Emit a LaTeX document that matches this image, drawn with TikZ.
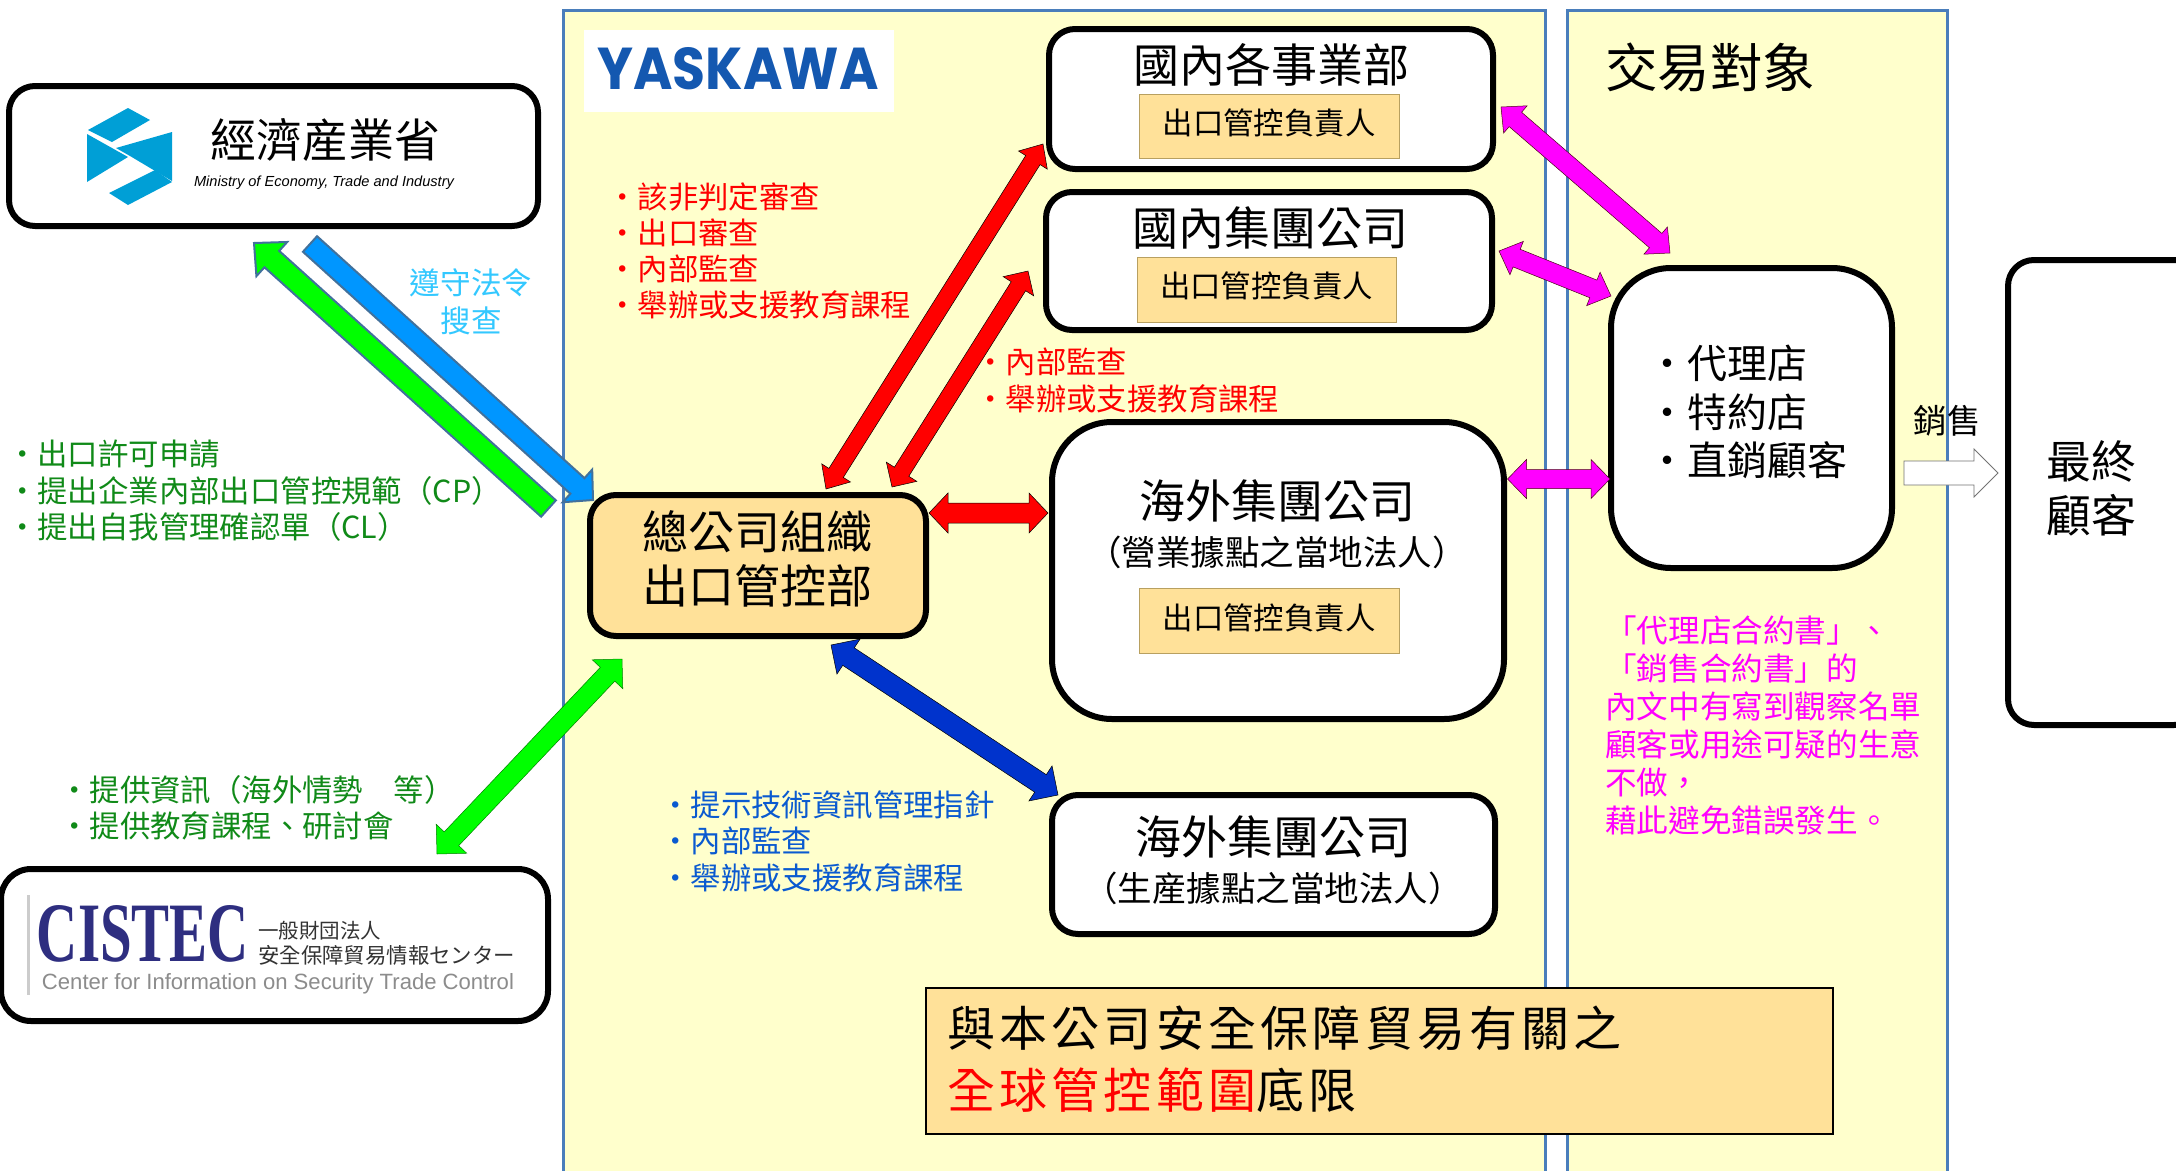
\documentclass[tikz,border=0pt]{standalone}
\usepackage{fontspec}
\usepackage{graphicx}
\setmainfont{Noto Sans CJK TC}
\newfontfamily\arialf{Liberation Sans}
\newfontfamily\serff{Liberation Serif}
\newfontfamily\yasf{Poppins}
\usetikzlibrary{calc}
\newcommand{\fs}[2]{\fontsize{#1}{#2}\selectfont}
\definecolor{panelfill}{HTML}{FFFFCC}
\definecolor{panelline}{HTML}{4A7EBB}
\definecolor{gold}{HTML}{FFE199}
\definecolor{goldline}{HTML}{B8A060}
\definecolor{txtred}{HTML}{FF0000}
\definecolor{txtgreen}{HTML}{108A18}
\definecolor{txtsky}{HTML}{33C8FF}
\definecolor{txtblue}{HTML}{0A5AD0}
\definecolor{txtmag}{HTML}{FF00FF}
\definecolor{arrgreen}{HTML}{00FF00}
\definecolor{arrsky}{HTML}{0096FF}
\definecolor{arrblue}{HTML}{0033CC}
\definecolor{arrline}{HTML}{41719C}
\definecolor{metilogo}{HTML}{009FD6}
\definecolor{cistecblue}{HTML}{2E2E80}
\definecolor{yasblue}{HTML}{1458B0}
\tikzset{
  panel/.style={draw=panelline,line width=3pt,fill=panelfill},
  rbox/.style={draw=black,line width=6pt,fill=white,rounded corners=#1},
  rbox/.default=26pt,
  inner/.style={draw=goldline,line width=1pt,fill=gold,inner sep=0pt,text=black,font=\fs{30.4}{36}},
  txt/.style={inner sep=0pt,align=center},
  ltxt/.style={inner sep=0pt,align=left,anchor=west},
  redarr/.style={draw=black,line width=.5pt,fill=red},
  magarr/.style={draw=black!60!purple,line width=.5pt,fill=txtmag},
  grnarr/.style={draw=arrline,line width=2pt,fill=arrgreen,miter limit=20},
  skyarr/.style={draw=arrline,line width=2pt,fill=arrsky,miter limit=20},
  blkarr/.style={draw=black,line width=.5pt,fill=arrblue},
  grnarrb/.style={draw=black!50!green,line width=.5pt,fill=arrgreen},
  whtarr/.style={draw=black!55,line width=.8pt,fill=white},
}
% from, to, shaft half, head half, head length, style
\newcommand{\DoubleArrow}[6]{%
  \draw[#6] let \p1=($(#2)-(#1)$), \n1={atan2(\y1,\x1)} in
    (#1)
    -- ($(#1)+(\n1:#5pt)+(\n1+90:#4pt)$)
    -- ($(#1)+(\n1:#5pt)+(\n1+90:#3pt)$)
    -- ($(#2)+(\n1+180:#5pt)+(\n1+90:#3pt)$)
    -- ($(#2)+(\n1+180:#5pt)+(\n1+90:#4pt)$)
    -- (#2)
    -- ($(#2)+(\n1+180:#5pt)+(\n1-90:#4pt)$)
    -- ($(#2)+(\n1+180:#5pt)+(\n1-90:#3pt)$)
    -- ($(#1)+(\n1:#5pt)+(\n1-90:#3pt)$)
    -- ($(#1)+(\n1:#5pt)+(\n1-90:#4pt)$)
    -- cycle;}
\newcommand{\SingleArrow}[6]{%
  \draw[#6] let \p1=($(#2)-(#1)$), \n1={atan2(\y1,\x1)} in
    ($(#1)+(\n1+90:#3pt)$)
    -- ($(#2)+(\n1+180:#5pt)+(\n1+90:#3pt)$)
    -- ($(#2)+(\n1+180:#5pt)+(\n1+90:#4pt)$)
    -- (#2)
    -- ($(#2)+(\n1+180:#5pt)+(\n1-90:#4pt)$)
    -- ($(#2)+(\n1+180:#5pt)+(\n1-90:#3pt)$)
    -- ($(#1)+(\n1-90:#3pt)$)
    -- cycle;}
\begin{document}
\begin{tikzpicture}[x=1pt,y=-1pt]
\useasboundingbox (0,0) rectangle (2176,1170);
\fill[white] (0,0) rectangle (2176,1170);
% panels
\draw[panel] (563,10) rectangle (1545,1185);
\draw[panel] (1567,10) rectangle (1947,1185);
% Yaskawa logo
\node[fill=white,minimum width=310pt,minimum height=82pt,inner sep=0pt] (yas) at (739,71) {};
\node[txt,text=yasblue] (yastxt) at (738,69) {\resizebox{281pt}{42pt}{\yasf\bfseries YASKAWA}};
% METI
\draw[rbox] (9,86) rectangle (538,226);
\begin{scope}[fill=metilogo,draw=none]
\fill (128,108) -- (150,120) -- (112,142) -- (88,130) -- cycle;
\fill (87,134) -- (128,157) -- (87,182) -- cycle;
\fill (172,132) -- (172,181) -- (130,156) -- (116,148) -- cycle;
\fill (155,170) -- (172,182) -- (128,205) -- (109,193) -- cycle;
\end{scope}
\node[txt,font=\fs{46}{50}] (meti) at (325,140) {經濟産業省};
\node[txt,font={\arialf\itshape\fs{14.6}{16}}] (metien) at (324,182.5) {Ministry of Economy, Trade and Industry};
% CISTEC
\draw[rbox=30pt] (1,869) rectangle (548,1021);
\fill[black!20] (27,895) rectangle (30,995);
\node[txt,text=cistecblue] (cis) at (143,934) {\resizebox{212pt}{56pt}{\serff\bfseries CISTEC}};
\node[txt,anchor=west,text=black!80,font=\fs{20.5}{24}] (cis1) at (258,931) {一般財団法人};
\node[txt,anchor=west,text=black!80,font=\fs{21.4}{24}] (cis2) at (258,955) {安全保障貿易情報センター};
\node[txt,text=black!45] (cis3) at (278,984) {\resizebox{472pt}{!}{\arialf\fs{20}{24}Center for Information on Security Trade Control}};
% boxes
\draw[rbox] (1049,29) rectangle (1493,169);
\node[txt,font=\fs{46}{50}] (d1) at (1271,65) {國內各事業部};
\node[inner,minimum width=260pt,minimum height=64pt] (d1i) at (1269,126) {\raisebox{9pt}{出口管控負責人}};
\draw[rbox] (1046,192) rectangle (1492,330);
\node[txt,font=\fs{46}{50}] (d2) at (1270,228) {國內集團公司};
\node[inner,minimum width=259pt,minimum height=65pt] (d2i) at (1266.5,289.5) {\raisebox{9pt}{出口管控負責人}};
\draw[rbox=60pt] (1052,422) rectangle (1504,719);
\node[txt,font=\fs{46}{50}] (o1) at (1277,501) {海外集團公司};
\node[txt,font=\fs{34.5}{40}] (o1s) at (1277,552) {（營業據點之當地法人）};
\node[inner,minimum width=260pt,minimum height=65pt] (o1i) at (1269,621) {\raisebox{9pt}{出口管控負責人}};
\draw[rbox] (1052,795) rectangle (1495,934);
\node[txt,font=\fs{46}{50}] (o2) at (1273,837) {海外集團公司};
\node[txt,font=\fs{34.5}{40}] (o2s) at (1273,888) {（生産據點之當地法人）};
\draw[rbox,fill=gold] (590,495) rectangle (926,636);
\node[txt,font=\fs{46}{54}] (hq) at (757,559) {總公司組織\\出口管控部};
\draw[rbox=60pt] (1611,268) rectangle (1892,568);
\node[ltxt,font=\fs{40}{48.5}] (deal) at (1647,412) {・代理店\\・特約店\\・直銷顧客};
\draw[rbox=26pt] (2008,260) rectangle (2200,725);
\node[txt,font=\fs{45}{54}] (endc) at (2091,488) {最終\\顧客};
% bottom box
\node[draw=black,line width=2pt,fill=gold,minimum width=907pt,minimum height=146pt,inner sep=0pt] (base) at (1379.5,1061) {};
\node[ltxt,font={\fs{48}{62.5}\addfontfeature{LetterSpace=8.8}}] (basetxt) at (947,1059) {與本公司安全保障貿易有關之\\{\color{red}全球管控範圍}底限};
% titles and lists
\node[txt,font=\fs{52.5}{54}] (trade) at (1710,67) {交易對象};
\node[txt,text=txtsky,font=\fs{30.6}{38}] (law) at (471,302) {遵守法令\\搜查};
\node[ltxt,text=txtred,font=\fs{30.4}{36}] (redA) at (607,251) {・該非判定審查\\・出口審查\\・內部監查\\・舉辦或支援教育課程};
\node[ltxt,text=txtred,font=\fs{30.4}{37}] (redB) at (975,380) {・內部監查\\・舉辦或支援教育課程};
\node[ltxt,text=txtgreen,font=\fs{30.4}{36.5}] (grnA) at (7,491) {・出口許可申請\\・提出企業內部出口管控規範（CP）\\・提出自我管理確認單（CL）};
\node[ltxt,text=txtgreen,font=\fs{30.4}{36}] (grnB) at (59,808) {・提供資訊（海外情勢　等）\\・提供教育課程、研討會};
\node[ltxt,text=txtblue,font=\fs{30.4}{36.5}] (bluA) at (660,841) {・提示技術資訊管理指針\\・內部監查\\・舉辦或支援教育課程};
\node[ltxt,text=txtmag,font=\fs{31.6}{38}] (magA) at (1605,725) {「代理店合約書」、\\「銷售合約書」的\\內文中有寫到觀察名單\\顧客或用途可疑的生意\\不做，\\藉此避免錯誤發生。};
\node[txt,font=\fs{33.5}{38}] (sale) at (1947,421) {銷售};
% arrow ends
\coordinate (g1a) at (548.5,508.5); \coordinate (g1b) at (254,243);
\coordinate (s1a) at (310,244); \coordinate (s1b) at (593,500);
\coordinate (r1a) at (826,489); \coordinate (r1b) at (1043,144);
\coordinate (r2a) at (892,487); \coordinate (r2b) at (1028,271);
\coordinate (r3a) at (929,513); \coordinate (r3b) at (1048,513);
\coordinate (b1a) at (831,645); \coordinate (b1b) at (1058,795);
\coordinate (g2a) at (622,659); \coordinate (g2b) at (437,854);
\coordinate (m1a) at (1501,107); \coordinate (m1b) at (1670,253);
\coordinate (m2a) at (1499,251); \coordinate (m2b) at (1611,296);
\coordinate (m3a) at (1507.5,479); \coordinate (m3b) at (1610,479);
\coordinate (w1a) at (1904,473); \coordinate (w1b) at (1998,473);
% arrows
\SingleArrow{g1a}{g1b}{11}{23}{24}{grnarr}
\SingleArrow{s1a}{s1b}{10.5}{22}{21}{skyarr}
\DoubleArrow{r1a}{r1b}{8.5}{17}{19}{redarr}
\DoubleArrow{r2a}{r2b}{8.5}{18}{18}{redarr}
\DoubleArrow{r3a}{r3b}{10}{20}{19}{redarr}
\DoubleArrow{b1a}{b1b}{10.5}{21}{21}{blkarr}
\DoubleArrow{g2a}{g2b}{10}{21}{21}{grnarrb}
\DoubleArrow{m1a}{m1b}{9.5}{18}{19}{magarr}
\DoubleArrow{m2a}{m2b}{9.5}{18}{19}{magarr}
\DoubleArrow{m3a}{m3b}{9.5}{19.5}{19}{magarr}
\SingleArrow{w1a}{w1b}{12}{24}{24}{whtarr}
\end{tikzpicture}
\end{document}
